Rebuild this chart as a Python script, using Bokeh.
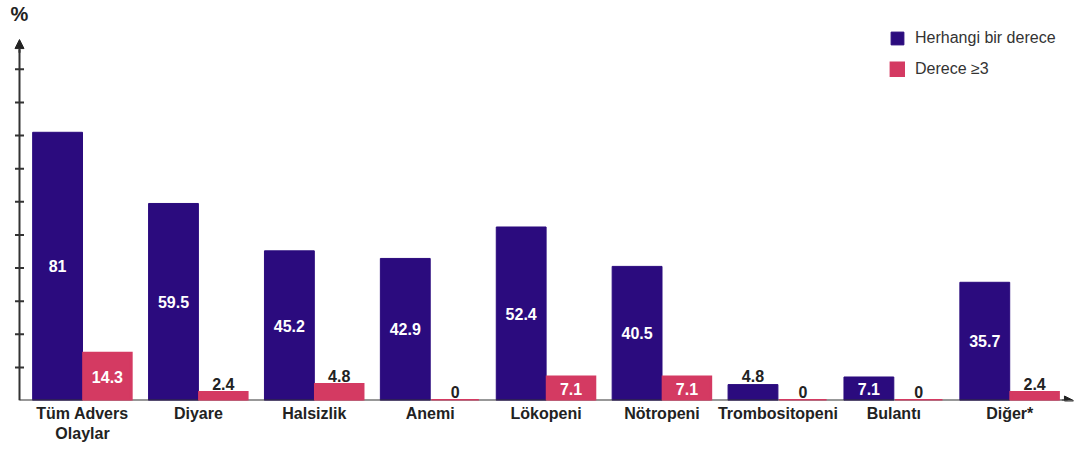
from bokeh.plotting import figure
from bokeh.models import (ColumnDataSource, FixedTicker, Arrow, NormalHead, Label,
                          Range1d, Legend, LegendItem)
from bokeh.embed import file_html
from bokeh.resources import INLINE
from bokeh.core.properties import value

categories = ["Tüm Advers\nOlaylar", "Diyare", "Halsizlik", "Anemi", "Lökopeni",
              "Nötropeni", "Trombositopeni", "Bulantı", "Diğer*"]
any_grade = [81, 59.5, 45.2, 42.9, 52.4, 40.5, 4.8, 7.1, 35.7]
grade3 = [14.3, 2.4, 4.8, 0, 7.1, 7.1, 0, 0, 2.4]
y_ticks = [10, 20, 30, 40, 50, 60, 70, 80, 90, 100]
series_names = ["Herhangi bir derece", "Derece \u22653"]

PURPLE = "#2B0B7E"
PINK = "#D43A62"
AXIS = "#333333"
FONT = "Liberation Sans"

W, H = 1074, 451
BW = 0.43
XA = -0.5436      # data x where the vertical axis stands
X_END = 8.55      # end of the horizontal axis arrow
Y_TOP = 109       # top of the vertical axis arrow

p = figure(width=W, height=H, output_backend="svg", toolbar_location=None,
           x_range=Range1d(-0.7075, 8.559), y_range=Range1d(0, 120.8),
           min_border_left=0, min_border_right=0, min_border_top=0,
           min_border_bottom=51)
p.outline_line_color = None
p.grid.visible = False
p.background_fill_color = "white"

xs = list(range(len(categories)))
src1 = ColumnDataSource(dict(x=[i - BW / 2 for i in xs], top=any_grade))
src2 = ColumnDataSource(dict(x=[i + BW / 2 for i in xs], top=grade3))
r1 = p.vbar(x="x", top="top", width=BW, source=src1, fill_color=PURPLE,
            line_color=PURPLE, line_width=1, line_join="miter")

# horizontal axis line (drawn over purple bars' bottoms, under pink)
p.segment(x0=[XA], y0=[0], x1=[X_END - 0.05], y1=[0], line_color=AXIS, line_width=2)
p.add_layout(Arrow(end=NormalHead(size=9, fill_color="#222222", line_color="#222222"),
                   x_start=X_END - 0.1, y_start=0, x_end=X_END, y_end=0,
                   line_color=AXIS, line_width=2))

r2 = p.vbar(x="x", top="top", width=BW - 0.02, source=src2, fill_color=PINK,
            line_color=PINK, line_width=3, line_join="miter")

# vertical axis line, ticks and arrow
p.segment(x0=[XA], y0=[0], x1=[XA], y1=[Y_TOP - 3], line_color=AXIS, line_width=2)
p.scatter(x=[XA] * len(y_ticks), y=y_ticks, marker="dash", size=9,
          line_color=AXIS, line_width=2)
p.add_layout(Arrow(end=NormalHead(size=9, fill_color="#222222", line_color="#222222"),
                   x_start=XA, y_start=Y_TOP - 4, x_end=XA, y_end=Y_TOP,
                   line_color=AXIS, line_width=2))

# value labels
def split(xpos, vals):
    inside = dict(x=[], y=[], t=[])
    outside = dict(x=[], y=[], t=[])
    for xv, v in zip(xpos, vals):
        t = ("%g" % v)
        if v >= 7:
            inside["x"].append(xv); inside["y"].append(v / 2); inside["t"].append(t)
        else:
            outside["x"].append(xv); outside["y"].append(v); outside["t"].append(t)
    return inside, outside

i1, o1 = split(src1.data["x"], any_grade)
i2, o2 = split(src2.data["x"], grade3)
ins = ColumnDataSource(dict(x=i1["x"] + i2["x"], y=i1["y"] + i2["y"], t=i1["t"] + i2["t"]))
outs = ColumnDataSource(dict(x=o1["x"] + o2["x"], y=o1["y"] + o2["y"], t=o1["t"] + o2["t"]))
p.text(x="x", y="y", text="t", source=ins, text_color="white",
       text_font=value(FONT), text_font_style="bold", text_font_size="16px",
       text_align="center", text_baseline="middle")
p.text(x="x", y="y", text="t", source=outs, text_color="#222222",
       text_font=value(FONT), text_font_style="bold", text_font_size="16px",
       text_align="center", text_baseline="bottom", y_offset=-3)

# category axis (labels only)
p.xaxis.ticker = FixedTicker(ticks=xs)
p.xaxis.major_label_overrides = {i: c for i, c in enumerate(categories)}
p.xaxis.major_tick_line_color = None
p.xaxis.minor_tick_line_color = None
p.xaxis.major_tick_out = 0
p.xaxis.major_tick_in = 0
p.xaxis.major_label_standoff = 4
p.xaxis.major_label_text_font = FONT
p.xaxis.major_label_text_font_style = "bold"
p.xaxis.major_label_text_font_size = "16px"
p.xaxis.major_label_text_color = "#222222"
p.xaxis.axis_line_color = None
p.yaxis.visible = False

p.add_layout(Label(x=XA, y=116.6, text="%", text_font=FONT, text_font_style="bold",
                   text_font_size="20px", text_color="#222222",
                   text_align="center", text_baseline="middle"))

legend = Legend(items=[LegendItem(label=series_names[0], renderers=[r1]),
                       LegendItem(label=series_names[1], renderers=[r2])],
                location=(889, 322), padding=0, spacing=13,
                glyph_width=16, glyph_height=16, label_height=16,
                label_standoff=10, label_text_font=FONT,
                label_text_font_size="16px", label_text_color="#333333",
                border_line_color=None, background_fill_alpha=0)
p.add_layout(legend, "center")

open("out.html", "w").write(file_html(p, INLINE))
